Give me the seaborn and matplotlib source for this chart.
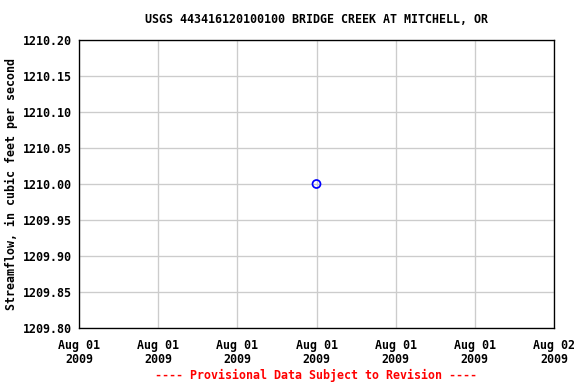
import matplotlib
matplotlib.use("Agg")
import matplotlib.pyplot as plt
import matplotlib.dates as mdates
import seaborn as sns
import pandas as pd
import numpy as np

times = pd.to_datetime(["2009-08-01 12:00"])
flow = [1210.00]
yticks = [1209.80, 1209.85, 1209.90, 1209.95, 1210.00, 1210.05, 1210.10, 1210.15, 1210.20]
xlabels = ["Aug 01\n2009"] * 6 + ["Aug 02\n2009"]

sns.set_style("white")
plt.rcParams['font.family'] = ['DejaVu Sans Mono']
plt.rcParams['font.weight'] = 'bold'
plt.rcParams['text.color'] = 'black'
plt.rcParams['xtick.color'] = 'black'
plt.rcParams['ytick.color'] = 'black'
plt.rcParams['axes.labelcolor'] = 'black'

fs = 8.7
fig = plt.figure(figsize=(6, 4), dpi=96)
ax = fig.add_axes([79/576, 1 - 328/384, (554-79)/576, (328-40)/384])

df = pd.DataFrame({"time": times, "flow": flow})
sns.scatterplot(data=df, x="time", y="flow", ax=ax, marker="o", s=36,
                facecolor="none", edgecolor="blue", linewidth=1.3, zorder=3)

start = pd.Timestamp("2009-08-01 00:00")
xt = [start + pd.Timedelta(hours=4*i) for i in range(7)]
ax.set_xlim(mdates.date2num(xt[0]), mdates.date2num(xt[-1]))
ax.set_xticks([mdates.date2num(t) for t in xt])
ax.set_xticklabels(xlabels, fontsize=fs, fontweight='bold', linespacing=1.15)
ax.set_ylim(1209.80, 1210.20)
ax.set_yticks(yticks)
ax.set_yticklabels([f"{v:.2f}" for v in yticks], fontsize=fs, fontweight='bold')
ax.grid(True, color="#cccccc", linewidth=1)
ax.set_axisbelow(True)
for s in ax.spines.values():
    s.set_color("black")
    s.set_linewidth(1)
ax.tick_params(axis='y', length=0, pad=5)
ax.tick_params(axis='x', length=0, pad=8)
ax.set_xlabel("")
ax.set_ylabel("Streamflow, in cubic feet per second", fontsize=fs, fontweight='bold', labelpad=4)
ax.set_title("USGS 443416120100100 BRIDGE CREEK AT MITCHELL, OR", fontsize=fs,
             fontweight='bold', pad=13)
fig.text(316/576, 1 - 375/384, "---- Provisional Data Subject to Revision ----",
         color="red", fontsize=fs, fontweight='bold', ha="center", va="center")
fig.savefig("out.png", dpi=96)
